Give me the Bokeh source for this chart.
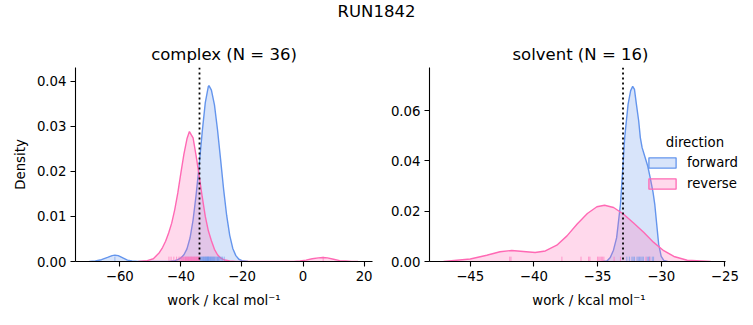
from bokeh.plotting import figure
from bokeh.models import (Span, Label, Legend, LegendItem, FixedTicker,
                          PrintfTickFormatter, Div, Range1d)
from bokeh.layouts import column, row
from bokeh.embed import file_html
from bokeh.resources import INLINE

SUPTITLE = "RUN1842"
FWD_COLOR = "#6495ED"
REV_COLOR = "#FF69B4"
FONT = "DejaVu Sans"
XLABEL = "work / kcal mol\u207b\u00b9"
YLABEL = "Density"
LEGEND_TITLE = "direction"
DIRECTIONS = ["forward", "reverse"]

# ---------------- complex phase ----------------
complex_title = "complex (N = 36)"
complex_fwd_x = [-70, -68, -66, -64, -62.5, -61.6, -60.5, -59, -57.5, -56, -54,
                 -44, -42, -41, -40, -39, -38, -37, -36, -35, -34, -33, -32, -31,
                 -30.8, -30, -29, -28, -27, -26, -25, -24, -23, -22, -21, -20, -18]
complex_fwd_d = [0, 0.0001, 0.0004, 0.0009, 0.0013, 0.0014, 0.0013, 0.0008, 0.0003, 0.0001, 0,
                 0, 0.0002, 0.0004, 0.0008, 0.0015, 0.0028, 0.0052, 0.0092, 0.0148, 0.0214,
                 0.0288, 0.0352, 0.0388, 0.0390, 0.0380, 0.0347, 0.0292, 0.0227, 0.0160,
                 0.0102, 0.0058, 0.0029, 0.0013, 0.0005, 0.0002, 0]
complex_rev_x = [-54, -51, -49, -47, -46, -45, -44, -43, -42, -41, -40, -39, -38, -37.2,
                 -36, -35, -34, -33, -32, -31, -30, -29, -28, -27, -26, -24, -22, -20,
                 -15, -5, -3, -1, 1, 3, 5, 6.5, 8, 10, 12, 14, 16, 18]
complex_rev_d = [0, 0.0002, 0.0006, 0.0020, 0.0031, 0.0045, 0.0063, 0.0085, 0.0115, 0.0152,
                 0.0196, 0.0238, 0.0272, 0.0288, 0.0274, 0.0234, 0.0190, 0.0143, 0.0100,
                 0.0068, 0.0046, 0.0027, 0.0015, 0.0008, 0.0004, 0.0001, 0, 0,
                 0, 0, 0, 0.0001, 0.0003, 0.0006, 0.0008, 0.0009, 0.0008, 0.0005, 0.0002,
                 0.0001, 0, 0]
complex_fwd_work = [-61.6, -33.8, -33.5, -33.3, -33.0, -32.8, -32.6, -32.4, -32.2, -32.0,
                    -31.8, -31.7, -31.5, -31.3, -31.2, -31.0, -30.9, -30.7, -30.5, -30.3,
                    -30.1, -29.9, -29.7, -29.5, -29.3, -29.0, -28.8, -28.5, -28.2, -28.0,
                    -27.7, -27.5, -27.2, -26.8, -26.4, -25.8]
complex_rev_work = [-43.9, -43.2, -42.3, -41.4, -40.6, -40.2, -39.8, -39.5, -39.2, -39.0,
                    -38.7, -38.5, -38.3, -38.1, -37.9, -37.7, -37.5, -37.3, -37.1, -36.9,
                    -36.7, -36.5, -36.3, -36.1, -35.9, -35.7, -35.5, -35.3, -35.1, -34.9,
                    -34.7, -34.5, -34.3, -34.1, -33.9, 6.6]
complex_dg = -33.9
complex_xlim = (-74.5, 22.75)
complex_ylim = (0, 0.043)
complex_xticks = [-60, -40, -20, 0, 20]
complex_yticks = [0, 0.01, 0.02, 0.03, 0.04]

# ---------------- solvent phase ----------------
solvent_title = "solvent (N = 16)"
solvent_fwd_x = [-34.6, -34.26, -34.0, -33.75, -33.5, -33.2, -33.03, -32.87, -32.6, -32.4,
                 -32.24, -32.1, -31.95, -31.77, -31.64, -31.5, -31.3, -31.06, -30.85,
                 -30.64, -30.5, -30.38, -30.2, -30.0, -29.8, -29.5]
solvent_fwd_d = [0, 0.0002, 0.0016, 0.0045, 0.0095, 0.0228, 0.0361, 0.0493, 0.0626, 0.0680,
                 0.0697, 0.0685, 0.0626, 0.0560, 0.0493, 0.0453, 0.0420, 0.0380, 0.0330,
                 0.0275, 0.0225, 0.0162, 0.0069, 0.0020, 0.0004, 0]
solvent_rev_x = [-47.1, -45.0, -43.7, -42.66, -41.74, -40.83, -39.9, -39.1, -38.2, -37.4,
                 -36.6, -35.8, -35.05, -34.45, -33.74, -32.95, -32.17, -31.38, -30.59,
                 -29.8, -29.0, -27.96, -26.1]
solvent_rev_d = [0, 0.0010, 0.0025, 0.0039, 0.0044, 0.0040, 0.0036, 0.0042, 0.0065, 0.0102,
                 0.0149, 0.0191, 0.0218, 0.0224, 0.0215, 0.0188, 0.0153, 0.0116, 0.0076,
                 0.0043, 0.0020, 0.0005, 0]
solvent_fwd_work = [-32.7, -32.5, -32.3, -32.2, -32.1, -31.9, -31.8, -31.7, -31.6, -31.5,
                    -31.4, -31.1, -31.0, -30.9, -30.7, -30.6]
solvent_rev_work = [-41.9, -41.8, -37.8, -36.3, -35.7, -35.6, -35.0, -34.9, -34.8, -34.7,
                    -34.6, -34.5, -33.7, -33.2, -31.2, -30.9]
solvent_dg = -33.0
solvent_xlim = (-48.2, -24.95)
solvent_ylim = (0, 0.0772)
solvent_xticks = [-45, -40, -35, -30, -25]
solvent_yticks = [0, 0.02, 0.04, 0.06]

TICK_FS = "13.3px"
TITLE_FS = "16.5px"


def minus(v):
    s = "%g" % v
    return s.replace("-", "\u2212")


def make_panel(title, xlim, ylim, xticks, yticks, curves, rugs, dg, border_left,
               border_right, ylabel, axis_fw, fw):
    # the frame may extend beyond the axis (room for the legend); keep same scale
    scale = axis_fw / (xlim[1] - xlim[0])
    x_end = xlim[0] + fw / scale
    p = figure(frame_width=fw, frame_height=194,
               x_range=Range1d(xlim[0], x_end), y_range=Range1d(*ylim),
               output_backend="svg", toolbar_location=None,
               min_border_left=border_left, min_border_right=border_right,
               min_border_top=33, min_border_bottom=50, title=title)
    p.title.text_font = FONT
    p.title.text_font_size = TITLE_FS
    p.title.text_font_style = "normal"
    p.title.align = "center"
    p.title.text_color = "black"
    p.title.standoff = 8
    p.outline_line_color = None
    p.grid.visible = False
    p.background_fill_color = "white"
    p.border_fill_color = "white"

    for ax in (p.xaxis[0], p.yaxis[0]):
        ax.axis_line_color = "black"
        ax.axis_line_width = 1.1
        ax.major_tick_line_color = "black"
        ax.major_tick_line_width = 1.1
        ax.major_tick_out = 5
        ax.major_tick_in = 0
        ax.minor_tick_line_color = None
        ax.major_label_text_font = FONT
        ax.major_label_text_font_size = TICK_FS
        ax.major_label_text_color = "black"
        ax.axis_label_text_font = FONT
        ax.axis_label_text_font_size = TICK_FS
        ax.axis_label_text_font_style = "normal"
        ax.axis_label_text_color = "black"
        ax.major_label_standoff = 4

    p.xaxis.bounds = xlim
    p.xaxis.ticker = FixedTicker(ticks=xticks)
    p.xaxis.major_label_overrides = {t: minus(t) for t in xticks}
    p.xaxis.axis_label = XLABEL
    p.xaxis.axis_label_standoff = 9
    p.yaxis.ticker = FixedTicker(ticks=yticks)
    p.yaxis.formatter = PrintfTickFormatter(format="%.2f")
    if ylabel:
        p.yaxis.axis_label = ylabel
        p.yaxis.axis_label_standoff = 6

    for (xs, ds), color in curves:
        p.varea(x=xs, y1=[0] * len(xs), y2=ds, fill_color=color, fill_alpha=0.25)
        p.line(x=xs, y=ds, line_color=color, line_width=1.4)

    rug_h = 0.025 * ylim[1]
    for vals, color in rugs:
        p.segment(x0=vals, y0=[0] * len(vals), x1=vals, y1=[rug_h] * len(vals),
                  line_color=color, line_alpha=0.6, line_width=1)

    p.add_layout(Span(location=dg, dimension="height", line_color="black",
                      line_width=1.8, line_dash="2 3"))
    return p


p1 = make_panel(complex_title, complex_xlim, complex_ylim, complex_xticks, complex_yticks,
                [((complex_fwd_x, complex_fwd_d), FWD_COLOR),
                 ((complex_rev_x, complex_rev_d), REV_COLOR)],
                [(complex_fwd_work, FWD_COLOR), (complex_rev_work, REV_COLOR)],
                complex_dg, 75, 12, YLABEL, 297, 297)

p2 = make_panel(solvent_title, solvent_xlim, solvent_ylim, solvent_xticks, solvent_yticks,
                [((solvent_fwd_x, solvent_fwd_d), FWD_COLOR),
                 ((solvent_rev_x, solvent_rev_d), REV_COLOR)],
                [(solvent_fwd_work, FWD_COLOR), (solvent_rev_work, REV_COLOR)],
                solvent_dg, 45, 2, None, 296, 319)
# centre the solvent title over its axis (not over the wider frame)
p2.title.align = "left"
p2.title.offset = 83

# legend (degenerate quads give the boxed legend glyphs)
items = []
for name, color in zip(DIRECTIONS, [FWD_COLOR, REV_COLOR]):
    r = p2.quad(left=[solvent_xlim[0]], right=[solvent_xlim[0]], top=[0], bottom=[0],
                fill_color=color, fill_alpha=0.25, line_color=color, line_width=1.3)
    items.append(LegendItem(label=name, renderers=[r]))
legend = Legend(items=items, location=(216, 70), orientation="vertical",
                glyph_width=34, glyph_height=13, label_standoff=8, spacing=6,
                padding=0, margin=0, border_line_color=None, background_fill_alpha=0,
                label_text_font=FONT, label_text_font_size=TICK_FS,
                label_text_color="black")
p2.add_layout(legend, "center")
p2.add_layout(Label(x=-27.35, y=0.0472, text=LEGEND_TITLE, text_align="center",
                    text_baseline="middle", text_font=FONT, text_font_size=TICK_FS,
                    text_color="black"))

title_div = Div(text=SUPTITLE, width=753, height=34, margin=(0, 0, 0, 0),
                styles={"font-family": FONT, "font-size": TITLE_FS,
                        "text-align": "center", "color": "black", "width": "753px"})

layout = column(title_div, row(p1, p2))
open("out.html", "w").write(file_html(layout, INLINE))
